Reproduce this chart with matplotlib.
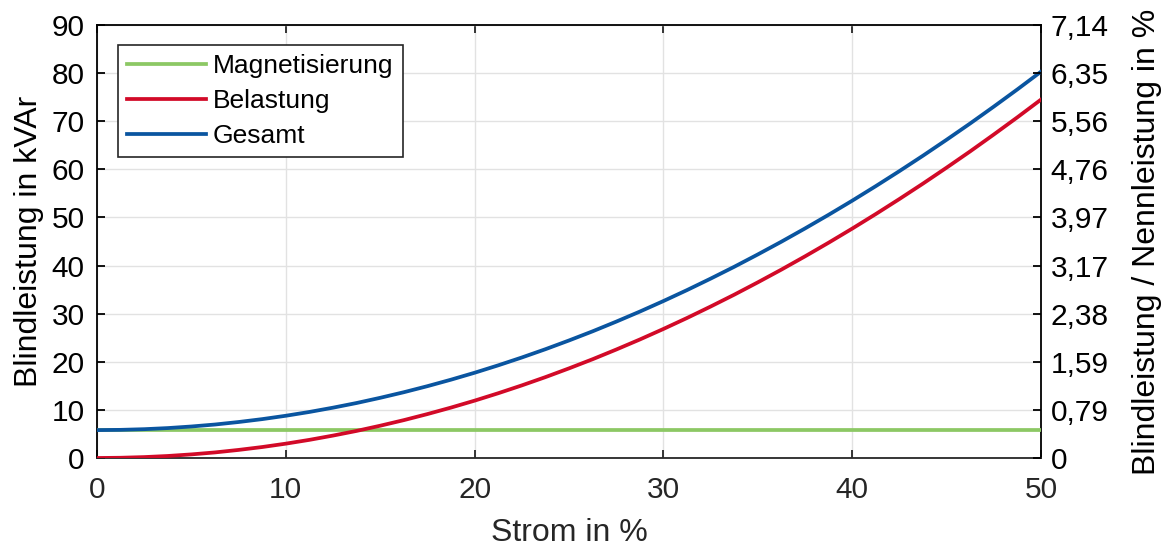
import matplotlib
matplotlib.use('Agg')
import matplotlib.pyplot as plt

plt.rcParams['font.family'] = ['Liberation Sans', 'DejaVu Sans']

# Strom in %
strom = [i * 1.25 for i in range(41)]
# Blindleistung in kVAr
magnetisierung = [5.8] * len(strom)
belastung = [0.0, 0.05, 0.19, 0.42, 0.75, 1.16, 1.68, 2.28, 2.98, 3.77,
             4.66, 5.63, 6.71, 7.87, 9.13, 10.48, 11.92, 13.46, 15.09, 16.81,
             18.63, 20.53, 22.54, 24.63, 26.82, 29.10, 31.48, 33.94, 36.51, 39.16,
             41.91, 44.75, 47.68, 50.71, 53.83, 57.04, 60.35, 63.74, 67.24, 70.82, 74.5]
gesamt = [m + b for m, b in zip(magnetisierung, belastung)]

left_ticks = [0, 10, 20, 30, 40, 50, 60, 70, 80, 90]
right_labels = ['0', '0,79', '1,59', '2,38', '3,17', '3,97', '4,76', '5,56', '6,35', '7,14']
x_ticks = [0, 10, 20, 30, 40, 50]

tick_fs = 21.5
label_fs = 23
leg_fs = 19

fig = plt.figure(figsize=(11.66, 5.47), dpi=100)
ax = fig.add_axes([97 / 1166, 1 - 458 / 547, (1041 - 97) / 1166, (458 - 25) / 547])

l1, = ax.plot(strom, magnetisierung, color='#8cc864', lw=2.7, label='Magnetisierung', zorder=3)
l2, = ax.plot(strom, belastung, color='#d20a28', lw=2.7, label='Belastung', zorder=3)
l3, = ax.plot(strom, gesamt, color='#0a55a0', lw=2.7, label='Gesamt', zorder=3)

ax.set_xlim(0, 50)
ax.set_ylim(0, 90)
ax.set_xticks(x_ticks)
ax.set_yticks(left_ticks)
ax.grid(True, color='#e2e2e2', linewidth=1, zorder=0)
ax.tick_params(axis='both', direction='in', length=6, width=1.3, labelsize=tick_fs)
ax.tick_params(axis='x', colors='#262626', pad=13, top=True)
ax.tick_params(axis='y', colors='black', pad=9)
for side in ['left', 'top', 'right']:
    ax.spines[side].set_color('black')
    ax.spines[side].set_linewidth(1.3)
ax.spines['bottom'].set_color('#262626')
ax.spines['bottom'].set_linewidth(1.3)
ax.set_xlabel('Strom in %', fontsize=label_fs, color='#262626', labelpad=10)
ax.set_ylabel('Blindleistung in kVAr', fontsize=label_fs, labelpad=5)

ax2 = ax.twinx()
ax2.set_ylim(0, 90)
ax2.set_yticks(left_ticks)
ax2.set_yticklabels(right_labels)
ax2.tick_params(axis='y', direction='in', length=6, width=1.3, labelsize=tick_fs,
                colors='black', pad=7)
ax2.set_ylabel('Blindleistung / Nennleistung in %', fontsize=label_fs, labelpad=17)
for s in ax2.spines.values():
    s.set_visible(False)

leg = ax.legend(handles=[l1, l2, l3], loc='upper left', bbox_to_anchor=(0.022, 0.954),
                fontsize=leg_fs, frameon=True, fancybox=False, framealpha=1,
                edgecolor='#262626', handlelength=3.0, handletextpad=0.27,
                labelspacing=0.42, borderpad=0.34, borderaxespad=0)
leg.get_frame().set_linewidth(1.2)

fig.savefig('out.png', dpi=100)
